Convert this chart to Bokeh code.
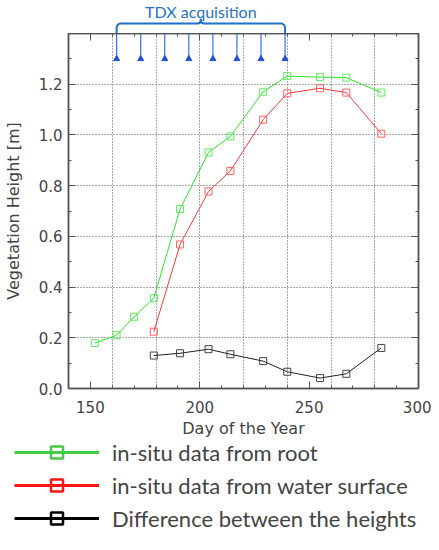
import math
from bokeh.plotting import figure
from bokeh.models import (Range1d, SingleIntervalTicker, LinearAxis, Legend, LegendItem,
                          ColumnDataSource, PrintfTickFormatter, CustomLabelingPolicy,
                          CustomJSTickFormatter)
from bokeh.layouts import column
from bokeh.embed import file_html
from bokeh.resources import INLINE
from bokeh.core.properties import value

# ---- data ----
root_day = [152, 162, 170, 179, 191, 204, 214, 229, 240, 255, 267, 283]
root_h = [0.179, 0.210, 0.283, 0.356, 0.708, 0.931, 0.994, 1.170, 1.232, 1.228, 1.226, 1.167]
water_day = [179, 191, 204, 214, 229, 240, 255, 267, 283]
water_h = [0.224, 0.568, 0.777, 0.858, 1.060, 1.164, 1.184, 1.167, 1.005]
diff_day = [179, 191, 204, 214, 229, 240, 255, 267, 283]
diff_h = [0.130, 0.139, 0.155, 0.135, 0.108, 0.066, 0.041, 0.058, 0.160]
tdx_day = [162, 173, 184, 195, 206, 217, 228, 239]

labels = ["in-situ data from root", "in-situ data from water surface",
          "Difference between the heights"]
plot_colors = ["#2ee82e", "#ff3838", "#222222"]
marker_colors = ["#5cee5c", "#ff6060", "#444444"]
legend_colors = ["#44cc44", "#ff1414", "#000000"]

AX = "#555555"
TXT = "#444444"
BLUE = "#1f72c8"
TDX_TOP, TDX_BOTTOM = 1.4, 1.30

FW, FH = 350, 355
TOP_H = 33

# ---- main plot ----
p = figure(frame_width=FW, frame_height=FH, x_range=Range1d(140, 300), y_range=Range1d(0, 1.4),
           output_backend="svg", toolbar_location=None,
           min_border_left=0, min_border_right=13, min_border_top=0, min_border_bottom=0)
p.outline_line_color = AX
p.outline_line_width = 1.5

xt = SingleIntervalTicker(interval=50, num_minor_ticks=5)
yt = SingleIntervalTicker(interval=0.2, num_minor_ticks=2)
p.xaxis.ticker = xt
p.yaxis.ticker = yt
p.yaxis.formatter = PrintfTickFormatter(format="%.1f")
p.xgrid.ticker = SingleIntervalTicker(interval=20)
p.ygrid.ticker = SingleIntervalTicker(interval=0.2)
for g in (p.xgrid, p.ygrid):
    g.grid_line_color = "#555555"
    g.grid_line_dash = "1 2"
    g.grid_line_width = 1

for ax in (p.xaxis[0], p.yaxis[0]):
    ax.axis_line_color = AX
    ax.axis_line_width = 1.5
    ax.major_tick_line_color = AX
    ax.minor_tick_line_color = AX
    ax.major_tick_in = 7
    ax.major_tick_out = 0
    ax.minor_tick_in = 3
    ax.minor_tick_out = 0
    ax.major_label_text_font = "DejaVu Sans"
    ax.major_label_text_font_size = "15px"
    ax.major_label_text_color = TXT
    ax.axis_label_text_font = "DejaVu Sans"
    ax.axis_label_text_font_size = "16px"
    ax.axis_label_text_font_style = "normal"
    ax.axis_label_text_color = TXT

p.xaxis.axis_label = "Day of the Year"
p.yaxis.axis_label = "Vegetation Height [m]"
p.xaxis.major_label_standoff = 12
p.xaxis.axis_label_standoff = 3
p.yaxis.major_label_standoff = 6
p.yaxis.axis_label_standoff = 13

no_labels = CustomLabelingPolicy(code="const all = [...indices]; for (const i of all) indices.unset(i); return indices")
blank = CustomJSTickFormatter(code="return ''")
for side, tk, so in (("above", xt, 0), ("right", yt, 13)):
    a = LinearAxis(ticker=tk, formatter=blank, major_label_policy=no_labels,
                   major_label_standoff=so,
                   axis_line_color=AX, axis_line_width=1.5,
                   major_tick_line_color=AX, minor_tick_line_color=AX,
                   major_tick_in=7, major_tick_out=0, minor_tick_in=3, minor_tick_out=0)
    p.add_layout(a, side)

# acquisition markers
p.segment(x0=tdx_day, y0=[TDX_TOP] * len(tdx_day), x1=tdx_day, y1=[TDX_BOTTOM] * len(tdx_day),
          line_color="#3a6cf5", line_width=1.2)
p.scatter(tdx_day, [TDX_BOTTOM] * len(tdx_day), marker="triangle", size=6,
          fill_color="#2050e0", line_color="#2050e0")

series = [(root_day, root_h), (water_day, water_h), (diff_day, diff_h)]
for (xs, ys), lc, mc in zip(series, plot_colors, marker_colors):
    p.line(xs, ys, line_color=lc, line_width=1)
    p.scatter(xs, ys, marker="square", size=7, fill_color=None, line_color=mc, line_width=1)

# ---- brace + title above ----
top = figure(frame_width=FW, height=TOP_H, x_range=p.x_range, y_range=Range1d(TOP_H, 0),
             output_backend="svg", toolbar_location=None,
             x_axis_location=None, y_axis_location=None,
             min_border_left=0, min_border_right=13, min_border_top=0, min_border_bottom=0)
top.grid.visible = False
top.outline_line_color = None
d0, d1 = tdx_day[0], tdx_day[-1]
mid = (d0 + d1) / 2
bx = [d0, d0, d0 + 0.4, d0 + 1.4, mid - 1.2, mid - 0.3, mid, mid + 0.3, mid + 1.2,
      d1 - 1.4, d1 - 0.4, d1, d1]
by = [TOP_H, 27, 24.5, 23, 23, 22, 18.5, 22, 23, 23, 24.5, 27, TOP_H]
top.line(bx, by, line_color=BLUE, line_width=2)
top.text(x=[mid], y=[1], text=["TDX acquisition"], text_font=value("Lato"),
         text_font_size="16px", text_color=BLUE, text_align="center",
         text_baseline="top")

# ---- legend (own figure, not frame-aligned) ----
leg = figure(width=431, height=95, x_range=Range1d(0, 1), y_range=Range1d(0, 1),
             output_backend="svg", toolbar_location=None,
             x_axis_location=None, y_axis_location=None, frame_align=False,
             min_border_left=0, min_border_right=0, min_border_top=0, min_border_bottom=0)
leg.grid.visible = False
leg.outline_line_color = None
items = []
for lab, c in zip(labels, legend_colors):
    src = ColumnDataSource(data=dict(x=[math.nan], y=[math.nan]))
    r1 = leg.line("x", "y", source=src, line_color=c, line_width=3)
    r2 = leg.scatter("x", "y", source=src, marker="square", size=12, fill_color=None,
                     line_color=c, line_width=2.5)
    items.append(LegendItem(label=lab, renderers=[r1, r2]))
legend = Legend(items=items, location=(14, 2), margin=0, padding=0,
                glyph_width=85, glyph_height=30, label_height=30, spacing=3,
                label_standoff=13, label_text_font="Lato", label_text_font_size="22px",
                border_line_alpha=0, background_fill_alpha=0)
leg.add_layout(legend)

layout = column(top, p, leg, spacing=0)
open("out.html", "w").write(file_html(layout, INLINE))
